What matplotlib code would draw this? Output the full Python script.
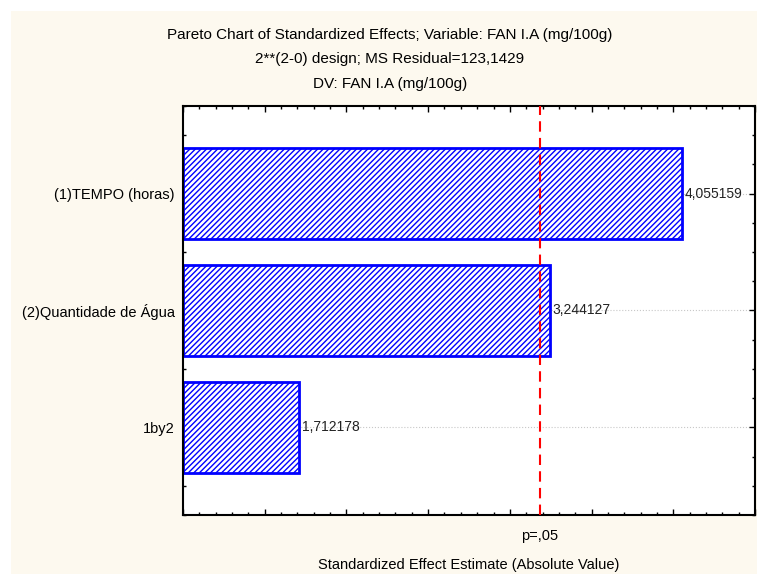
import matplotlib.pyplot as plt
from matplotlib.patches import Rectangle
from matplotlib.ticker import MultipleLocator

# dane z wykresu
efeitos = ['(1)TEMPO (horas)', '(2)Quantidade de Água', '1by2']
valores = [4.055159, 3.244127, 1.712178]
rotulos = ['4,055159', '3,244127', '1,712178']
p_critico = 3.182446  # t(0.975, 3)

titulo = ['Pareto Chart of Standardized Effects; Variable: FAN I.A (mg/100g)',
          '2**(2-0) design; MS Residual=123,1429',
          'DV: FAN I.A (mg/100g)']

plt.rcParams['font.family'] = ['Liberation Sans', 'DejaVu Sans']
plt.rcParams['hatch.color'] = '#0000ff'
plt.rcParams['hatch.linewidth'] = 1.0

fig = plt.figure(figsize=(7.57, 5.74), dpi=100)
fig.patches.append(Rectangle((11 / 757, 0), 1, 1 - 11 / 574, transform=fig.transFigure,
                             facecolor='#fdf9ef', edgecolor='none', zorder=-10))

ax = fig.add_axes([183 / 757, 1 - 515 / 574, 572 / 757, 409 / 574])
ax.set_facecolor('white')

pos = list(range(len(efeitos)))
ax.barh(pos, [v - 1.0 for v in valores], left=1.0, height=0.78,
        color='white', edgecolor='#0000ff', linewidth=2, hatch='//////', zorder=2)

for y, v, r in zip(pos, valores, rotulos):
    ax.text(v + 0.015, y, r, va='center', ha='left', fontsize=10, color='#222222', zorder=4)

ax.axvline(p_critico, color='#ff0000', linestyle=(0, (5, 3)), linewidth=1.5, zorder=3)

ax.set_xlim(1.0, 4.5)
ax.set_ylim(2.75, -0.75)
ax.set_yticks(pos)
ax.set_yticklabels(efeitos, fontsize=10.5)
ax.yaxis.set_minor_locator(MultipleLocator(0.25))
ax.xaxis.set_major_locator(MultipleLocator(0.5))
ax.xaxis.set_minor_locator(MultipleLocator(0.1))
ax.grid(axis='y', which='major', color='#c8c8c8', linestyle=':', linewidth=0.8, zorder=0)

ax.tick_params(which='both', direction='in', top=True, right=True, labelbottom=False)
ax.tick_params(which='major', length=4, width=1)
ax.tick_params(which='minor', length=2, width=1)
ax.tick_params(axis='y', pad=6)
for s in ax.spines.values():
    s.set_linewidth(1.5)

ax.text(p_critico, -0.035, 'p=,05', transform=ax.get_xaxis_transform(),
        ha='center', va='top', fontsize=10.5)

fig.text(469 / 757, 1 - 565 / 574, 'Standardized Effect Estimate (Absolute Value)',
         ha='center', va='center', fontsize=10.5)
for i, linha in enumerate(titulo):
    fig.text(390 / 757, 1 - (35 + 24.5 * i) / 574, linha,
             ha='center', va='center', fontsize=11)

fig.savefig('out.png', dpi=100)
